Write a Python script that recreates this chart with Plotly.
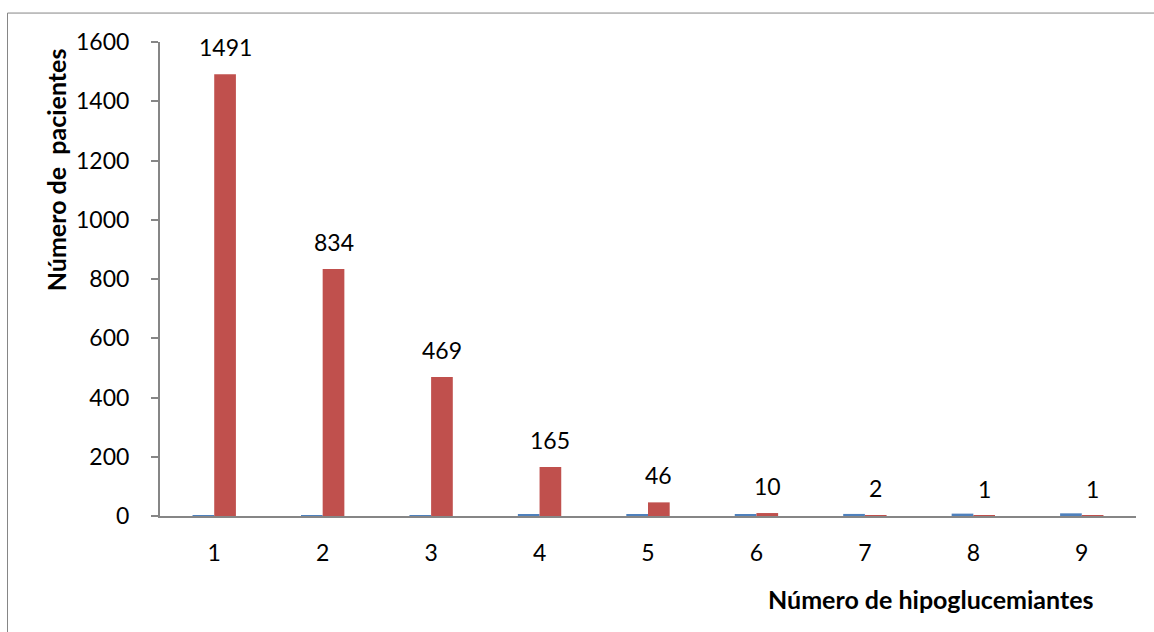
import plotly.graph_objects as go

# Number of oral hypoglycaemic drugs per patient and patient counts
hipoglucemiantes = [1, 2, 3, 4, 5, 6, 7, 8, 9]
serie_hipoglucemiantes = [1, 2, 3, 4, 5, 6, 7, 8, 9]
pacientes = [1491, 834, 469, 165, 46, 10, 2, 1, 1]
ticks_y = [0, 200, 400, 600, 800, 1000, 1200, 1400, 1600]

AZUL = "#4F81BD"
ROJO = "#C0504D"
GRIS = "#868686"
FUENTE = "Lato, 'Open Sans', sans-serif"

W, H = 1154, 632
M_L, M_R, M_T, M_B = 160, 18, 41.5, 115.5
plot_w = W - M_L - M_R
plot_h = H - M_T - M_B


def px_x(px):
    return (px - M_L) / plot_w


def px_y(py):
    return (H - M_B - py) / plot_h


fig = go.Figure()
fig.add_trace(go.Bar(x=hipoglucemiantes, y=serie_hipoglucemiantes,
                     marker=dict(color=AZUL, line=dict(width=0)),
                     showlegend=False, hoverinfo="x+y"))
fig.add_trace(go.Bar(x=hipoglucemiantes, y=pacientes,
                     marker=dict(color=ROJO, line=dict(width=0)),
                     showlegend=False, hoverinfo="x+y"))

# value labels above the patient-count bars
cat_px = plot_w / len(hipoglucemiantes)
for xv, yv in zip(hipoglucemiantes, pacientes):
    fig.add_annotation(x=xv, y=yv, xref="x", yref="y", text=str(yv),
                       showarrow=False, yanchor="bottom", xanchor="center",
                       xshift=cat_px * 0.1, yshift=11,
                       font=dict(family=FUENTE, size=23, color="#000000"))

# axis titles
fig.add_annotation(x=px_x(56), y=px_y(170), xref="paper", yref="paper",
                   text="Número de  pacientes", textangle=-90, showarrow=False,
                   xanchor="center", yanchor="middle",
                   font=dict(family=FUENTE, size=25, color="#000000", weight="bold"))
fig.add_annotation(x=px_x(930), y=px_y(600), xref="paper", yref="paper",
                   text="Número de hipoglucemiantes", showarrow=False,
                   xanchor="center", yanchor="middle",
                   font=dict(family=FUENTE, size=25, color="#000000", weight="bold"))

# chart frame
fig.add_shape(type="rect", xref="paper", yref="paper",
              x0=px_x(7.5), x1=px_x(1170), y0=px_y(650), y1=px_y(12.5),
              line=dict(color=GRIS, width=1), fillcolor="rgba(0,0,0,0)", layer="below")

fig.update_layout(
    width=W, height=H,
    margin=dict(l=M_L, r=M_R, t=M_T, b=M_B),
    paper_bgcolor="white", plot_bgcolor="white",
    barmode="group", bargap=0.6, bargroupgap=0,
    font=dict(family=FUENTE, size=23, color="#000000"),
    xaxis=dict(range=[0.5, 9.5], tickmode="array", tickvals=hipoglucemiantes,
               ticktext=[str(v) for v in hipoglucemiantes],
               showline=True, linecolor=GRIS, linewidth=2, ticks="",
               showgrid=False, zeroline=False, ticklabelstandoff=15,
               tickfont=dict(family=FUENTE, size=23, color="#000000")),
    yaxis=dict(range=[0, 1600], tickmode="array", tickvals=ticks_y,
               showline=True, linecolor=GRIS, linewidth=2, ticks="outside",
               ticklen=7, tickcolor=GRIS, tickwidth=2,
               showgrid=False, zeroline=False, ticklabelstandoff=17,
               tickfont=dict(family=FUENTE, size=23, color="#000000")),
)

fig.write_html("out.html")
